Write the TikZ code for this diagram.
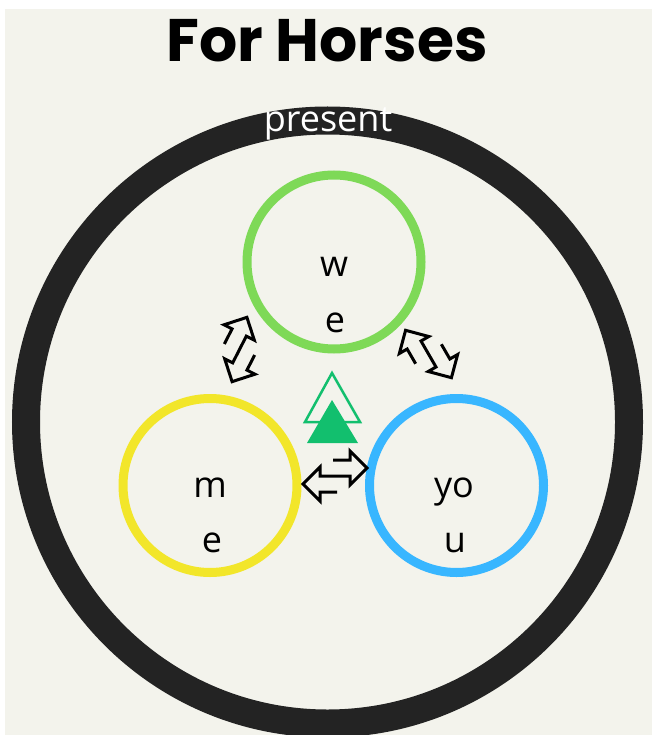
\documentclass[tikz,border=0pt]{standalone}
\usepackage{fontspec}
\setmainfont{Open Sans}
\newfontfamily\titlefont{Poppins}
\definecolor{cream}{HTML}{F3F3EC}
\definecolor{ringc}{HTML}{232323}
\definecolor{cgreen}{HTML}{7ED957}
\definecolor{cyellow}{HTML}{F2E62A}
\definecolor{cblue}{HTML}{38B6FF}
\definecolor{tgreen}{HTML}{12BF6E}
\tikzset{
  ringline/.style={draw=ringc, line width=28pt},
  member/.style={circle, line width=9pt, minimum size=174pt, inner sep=0pt},
  lbl/.style={font=\fontsize{36}{36}\selectfont, text=black, anchor=base, inner sep=0pt},
  arrowline/.style={draw=black, line width=3pt, miter limit=10},
  swapicon/.pic={\draw[arrowline] (-2,16) -- (15,16) -- (15,25) -- (32,8) -- (15,-9) -- (15,0) -- (-15,0) -- (-15,9) -- (-32,-8) -- (-15,-25) -- (-15,-16) -- (2,-16);}
}
\begin{document}
\begin{tikzpicture}[x=1pt,y=1pt]
\useasboundingbox (0,0) rectangle (652,-735);
\fill[white] (0,0) rectangle (652,-735);
\fill[cream] (5,-9) rectangle (652,-735);
\begin{scope}
\clip (5,-9) rectangle (652,-735);
\draw[ringline] (327.5,-422) circle[radius=301.5];
\end{scope}
\node[font=\titlefont\bfseries\fontsize{60}{60}\selectfont, anchor=base, inner sep=0pt] (title) at (327,-62) {For Horses};
\node[font=\fontsize{36}{36}\selectfont, text=white, anchor=base, inner sep=0pt] (present) at (328,-131.5) {present};
\node[member, draw=cgreen] (we) at (334,-262) {};
\node[member, draw=cyellow] (me) at (210,-485.5) {};
\node[member, draw=cblue] (you) at (456.5,-485.5) {};
\node[lbl] (w1) at (334,-276) {w};
\node[lbl] (w2) at (335,-332) {e};
\node[lbl] (m1) at (210,-497) {m};
\node[lbl] (m2) at (212,-552) {e};
\node[lbl] (y1) at (454,-497) {yo};
\node[lbl] (y2) at (455,-552) {u};
\draw[tgreen, line width=2.5pt, fill=cream] (332,-373) -- (360,-422) -- (305,-422) -- cycle;
\fill[tgreen] (332,-400) -- (358,-443) -- (307,-443) -- cycle;
\pic (swapmid) at (335,-476) {swapicon};
\pic[rotate=63] (swapleft) at (239.5,-349.5) {swapicon};
\pic[rotate=120] (swapright) at (428.5,-354) {swapicon};
\end{tikzpicture}
\end{document}
